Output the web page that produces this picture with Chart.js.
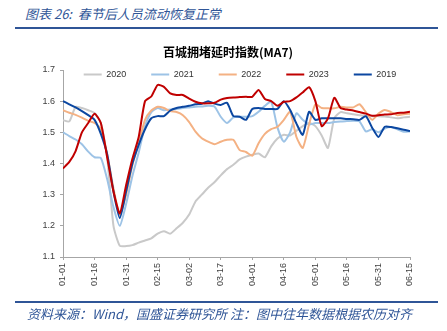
<!DOCTYPE html>
<html>
<head>
<meta charset="utf-8">
<script src="https://cdn.jsdelivr.net/npm/chart.js@4.4.1/dist/chart.umd.min.js"></script>
<style>
  body { margin: 0; width: 447px; height: 331px; background: #fff; position: relative; overflow: hidden; }
  .note { position: absolute; font-family: "Noto Sans CJK SC", sans-serif; font-style: italic; color: #2f5597; font-size: 13px; white-space: nowrap; }
  #head { left: 25px; top: 4px; }
  #foot { left: 27px; top: 304px; }
  #ctitle { position: absolute; left: 0; width: 456px; top: 43px; text-align: center; font-family: "Noto Sans CJK SC", sans-serif; font-weight: bold; font-size: 12px; line-height: 18px; color: #000; }
  .rule { position: absolute; left: 15px; width: 423px; height: 1.5px; background: #2f5597; }
  #chart { position: absolute; left: 0; top: 0; }
</style>
</head>
<body>
<div class="note" id="head">图表 26:&nbsp; 春节后人员流动恢复正常</div>
<div class="rule" style="top:27px"></div>
<canvas id="chart" width="447" height="331"></canvas>
<div id="ctitle">百城拥堵延时指数(MA7)</div>
<div class="rule" style="top:301px"></div>
<div class="note" id="foot">资料来源：Wind，国盛证券研究所 注：图中往年数据根据农历对齐</div>
<script>
'use strict';

// days after 01-01 (lunar aligned), sampled every 3 days
var days = [0, 3, 6, 9, 12, 15, 18, 21, 24, 27, 30, 33, 36, 39, 42, 45, 48, 51, 54, 57,
  60, 63, 66, 69, 72, 75, 78, 81, 84, 87, 90, 93, 96, 99, 102, 105, 108, 111, 114, 117,
  120, 123, 126, 129, 132, 135, 138, 141, 144, 147, 150, 153, 156, 159, 162, 165];

var xTickLabels = ['01-01', '01-16', '01-31', '02-15', '03-02', '03-17',
  '04-01', '04-16', '05-01', '05-16', '05-31', '06-15'];

var seriesNames = ['2020', '2021', '2022', '2023', '2019'];

var values2020 = [1.539, 1.535, 1.582, 1.578, 1.571, 1.562, 1.530, 1.420, 1.200, 1.136,
  1.135, 1.138, 1.146, 1.153, 1.160, 1.175, 1.183, 1.175, 1.192, 1.210,
  1.236, 1.278, 1.300, 1.322, 1.340, 1.362, 1.382, 1.396, 1.413, 1.422,
  1.428, 1.432, 1.420, 1.455, 1.480, 1.492, 1.490, 1.505, 1.520, 1.530,
  1.520, 1.490, 1.450, 1.545, 1.565, 1.561, 1.558, 1.555, 1.553, 1.552,
  1.552, 1.551, 1.548, 1.545, 1.548, 1.550];

var values2021 = [1.500, 1.488, 1.477, 1.462, 1.438, 1.420, 1.418, 1.350, 1.260, 1.200,
  1.270, 1.360, 1.435, 1.520, 1.565, 1.578, 1.571, 1.573, 1.575, 1.578,
  1.580, 1.582, 1.583, 1.585, 1.583, 1.550, 1.530, 1.548, 1.550, 1.550,
  1.552, 1.566, 1.585, 1.598, 1.515, 1.470, 1.500, 1.561, 1.540, 1.525,
  1.530, 1.530, 1.530, 1.533, 1.535, 1.536, 1.537, 1.535, 1.503, 1.510,
  1.500, 1.512, 1.517, 1.510, 1.502, 1.503];

var values2022 = [1.571, 1.563, 1.556, 1.547, 1.537, 1.530, 1.510, 1.430, 1.320, 1.235,
  1.300, 1.395, 1.465, 1.540, 1.570, 1.582, 1.578, 1.568, 1.565, 1.555,
  1.533, 1.502, 1.481, 1.470, 1.462, 1.470, 1.476, 1.476, 1.443, 1.437,
  1.425, 1.465, 1.495, 1.510, 1.518, 1.540, 1.566, 1.485, 1.450, 1.525,
  1.590, 1.578, 1.577, 1.577, 1.582, 1.580, 1.580, 1.590, 1.565, 1.540,
  1.560, 1.572, 1.565, 1.555, 1.558, 1.560];

var values2023 = [1.384, 1.405, 1.440, 1.500, 1.530, 1.560, 1.530, 1.420, 1.310, 1.240,
  1.330, 1.415, 1.485, 1.600, 1.615, 1.652, 1.646, 1.625, 1.620, 1.620,
  1.608, 1.598, 1.593, 1.593, 1.595, 1.605, 1.610, 1.612, 1.613, 1.614,
  1.614, 1.636, 1.607, 1.600, 1.585, 1.598, 1.600, 1.612, 1.628, 1.645,
  1.600, 1.520, 1.545, 1.611, 1.578, 1.573, 1.570, 1.565, 1.560, 1.553,
  1.555, 1.557, 1.558, 1.562, 1.563, 1.566];

var values2019 = [1.600, 1.590, 1.580, 1.568, 1.555, 1.540, 1.495, 1.430, 1.310, 1.225,
  1.310, 1.400, 1.460, 1.510, 1.545, 1.552, 1.552, 1.570, 1.578, 1.582,
  1.585, 1.590, 1.592, 1.600, 1.592, 1.588, 1.595, 1.552, 1.550, 1.540,
  1.575, 1.578, 1.575, 1.575, 1.575, 1.600, 1.572, 1.528, 1.492, 1.566,
  1.540, 1.545, 1.545, 1.545, 1.545, 1.543, 1.542, 1.540, 1.552, 1.515,
  1.485, 1.518, 1.517, 1.513, 1.508, 1.504];

var seriesValues = [values2020, values2021, values2022, values2023, values2019];
var seriesColors = ['#c9c9c9', '#9dc3e6', '#f4b183', '#c00000', '#0b47a1'];
var drawOrder = [4, 3, 2, 0, 1]; // 2023 on top, 2020 at the bottom

var datasets = seriesNames.map(function (name, i) {
  return {
    label: name,
    data: days.map(function (d, j) { return { x: d, y: seriesValues[i][j] }; }),
    borderColor: seriesColors[i],
    backgroundColor: seriesColors[i],
    borderWidth: 2,
    pointRadius: 0,
    tension: 0.2,
    order: drawOrder[i]
  };
});

// the legend row sits inside the plot, right at its top edge
var legendInside = {
  id: 'legendInside',
  afterLayout: function (chart) {
    var lg = chart.legend, area = chart.chartArea;
    var h = lg.bottom - lg.top;
    lg.left = area.left - 5;
    lg.right = area.right + 12;
    lg.top = area.top - 25;
    lg.bottom = lg.top + h;
  }
};

Chart.defaults.font.family = '"Liberation Sans", Arial, sans-serif';
Chart.defaults.color = '#404040';

var ctx = document.getElementById('chart').getContext('2d');
var myChart = new Chart(ctx, {
  type: 'line',
  data: { datasets: datasets },
  options: {
    responsive: false,
    animation: false,
    layout: { padding: { top: 26, left: 23, right: 37, bottom: 39 } },
    plugins: {
      legend: {
        position: 'top',
        align: 'center',
        labels: {
          boxWidth: 18,
          boxHeight: 0,
          padding: 25,
          font: { size: 9 },
          color: '#333',
          sort: function (a, b) { return a.datasetIndex - b.datasetIndex; }
        }
      },
      tooltip: { enabled: false }
    },
    scales: {
      x: {
        type: 'linear',
        min: 0,
        max: 165,
        afterFit: function (s) { s.height = 35; },
        border: { color: '#a6a6a6' },
        grid: { drawOnChartArea: false, tickLength: 3, color: '#a6a6a6' },
        ticks: {
          stepSize: 15,
          autoSkip: false,
          maxRotation: 90,
          minRotation: 90,
          padding: 3,
          font: { size: 9 },
          callback: function (v) { return xTickLabels[Math.round(v / 15)]; }
        }
      },
      y: {
        min: 1.1,
        max: 1.7,
        afterFit: function (s) { s.width = 40; },
        border: { color: '#a6a6a6' },
        grid: { drawOnChartArea: false, tickLength: 3, color: '#a6a6a6' },
        ticks: {
          stepSize: 0.1,
          padding: 5,
          font: { size: 9 },
          callback: function (v) { return v.toFixed(1); }
        }
      }
    }
  },
  plugins: [legendInside]
});
</script>
</body>
</html>
